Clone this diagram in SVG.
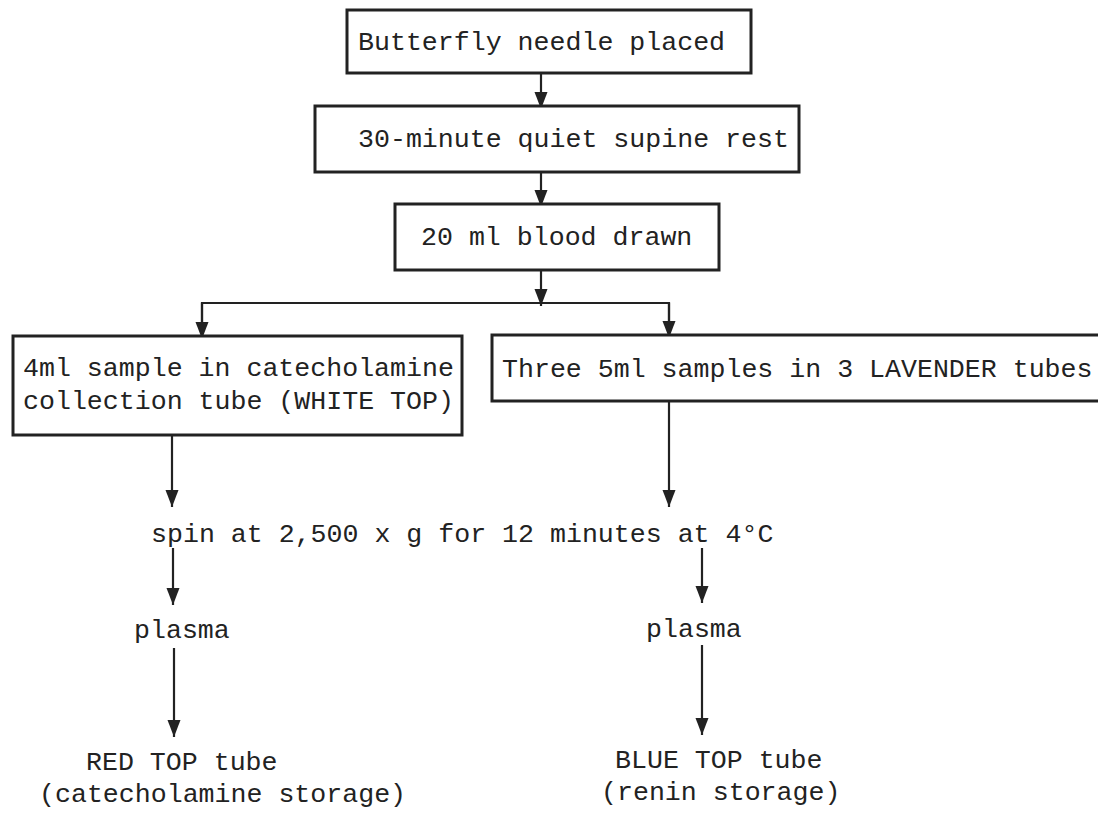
<svg xmlns="http://www.w3.org/2000/svg" width="1098" height="813" viewBox="0 0 1098 813">
<style>
.box{fill:#fff;stroke:#222;stroke-width:3}
.t{font-family:"Liberation Mono","DejaVu Sans Mono",monospace;font-size:26.6px;fill:#222}
.c{stroke:#222;stroke-width:2.2;fill:none}
.a{marker-end:url(#ah)}
</style>
<defs>
<marker id="ah" markerUnits="userSpaceOnUse" markerWidth="20" markerHeight="20" viewBox="0 -10 20 20" refX="17" refY="0" orient="auto" overflow="visible">
<path d="M0,-6.5 L17,0 L0,6.5 z" fill="#222"/>
</marker>
</defs>
<rect width="1098" height="813" fill="#fff"/>
<g id="connectors">
<line class="c a" x1="541" y1="73" x2="541" y2="109"/>
<line class="c a" x1="541" y1="172" x2="541" y2="207"/>
<line class="c a" x1="541" y1="270" x2="541" y2="306"/>
<polyline class="c" points="202,336 202,303 669,303 669,335"/>
<line class="c a" x1="202" y1="303" x2="202" y2="339"/>
<line class="c a" x1="669" y1="303" x2="669" y2="338"/>
<line class="c a" x1="172" y1="435" x2="172" y2="507"/>
<line class="c a" x1="669" y1="401" x2="669" y2="507"/>
<line class="c a" x1="173" y1="548" x2="173" y2="605"/>
<line class="c a" x1="702" y1="548" x2="702" y2="603"/>
<line class="c a" x1="174" y1="648" x2="174" y2="737"/>
<line class="c a" x1="702" y1="645" x2="702" y2="735"/>
</g>
<g id="n1">
<rect class="box" x="347" y="10" width="404" height="63"/>
<text class="t" x="358" y="50">Butterfly needle placed</text>
</g>
<g id="n2">
<rect class="box" x="315" y="106" width="484" height="66"/>
<text class="t" x="358" y="147">30-minute quiet supine rest</text>
</g>
<g id="n3">
<rect class="box" x="395" y="204" width="324" height="66"/>
<text class="t" x="421" y="245">20 ml blood drawn</text>
</g>
<g id="n4">
<rect class="box" x="13" y="336" width="449" height="99"/>
<text class="t" x="23" y="376">4ml sample in catecholamine</text>
<text class="t" x="23" y="409">collection tube (WHITE TOP)</text>
</g>
<g id="n5">
<rect class="box" x="492" y="335" width="620" height="66"/>
<text class="t" x="502" y="377">Three 5ml samples in 3 LAVENDER tubes</text>
</g>
<g id="n6">
<text class="t" x="151" y="542">spin at 2,500 x g for 12 minutes at 4°C</text>
</g>
<g id="n7">
<text class="t" x="134" y="638">plasma</text>
</g>
<g id="n8">
<text class="t" x="646" y="637">plasma</text>
</g>
<g id="n9">
<text class="t" x="86" y="770">RED TOP tube</text>
<text class="t" x="39" y="802">(catecholamine storage)</text>
</g>
<g id="n10">
<text class="t" x="615" y="768">BLUE TOP tube</text>
<text class="t" x="601" y="800">(renin storage)</text>
</g>
</svg>
